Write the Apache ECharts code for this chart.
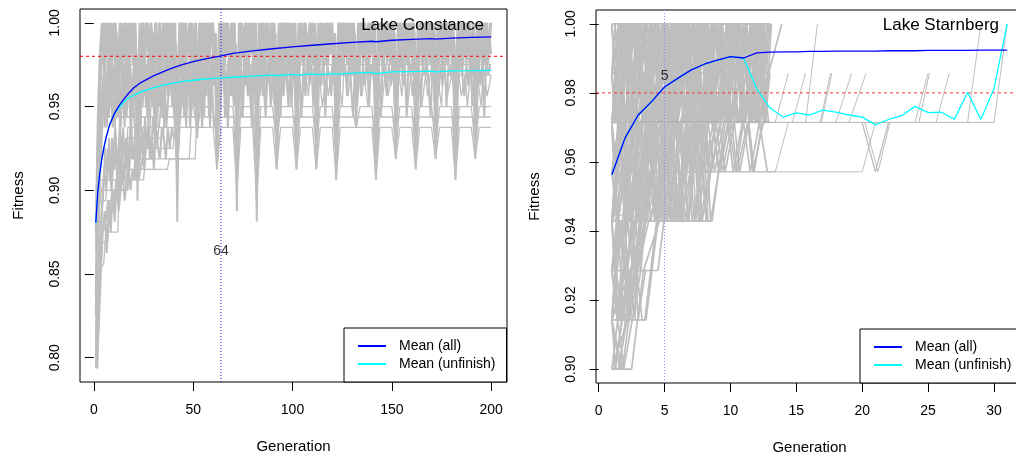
<!DOCTYPE html>
<html>
<head>
<meta charset="utf-8">
<script src="https://cdn.jsdelivr.net/npm/echarts@6/dist/echarts.min.js"></script>
<style>
  html, body { margin: 0; padding: 0; background: #fff; }
  #chart { width: 1016px; height: 452px; }
</style>
</head>
<body>
<div id="chart"></div>
<script>
// ---------------- Lake Constance (fitness = 1 - errors / 160) ----------------
const constanceScale = 160;
const constanceXTicks = [0, 50, 100, 150, 200];
const constanceYTicks = [0.80, 0.85, 0.90, 0.95, 1.00];
const constanceCross = 64;

// runs recorded every generation (errors); the matching entry of
// constanceDailyStart is the generation of the first value
const constanceRunA = [
  20,9,3,0,4,0,3,1,4,0, 3,9,4,0,2,0,4,1,3,0, 4,17,3,0,4,1,0,3,0,4, 0,9,0,4,0,2,4,0,3,0,
  4,19,3,0,4,0,3,0,4,1, 0,11,4,0,3,0,4,0,2,0, 4,14,3,0,4,0,3,1,4,0, 3,18,4,0,3,0,4,0,3,0,
  4,19,3,0,4,1,3,0,4,0, 3,14,4,0,3,0,4,0,2,0, 4,14,3,0,4,0,3,1,4,0, 3,14,4,0,3,0,4,0,3,0,
  4,15,3,0,4,0,2,0,4,0, 3,10,4,0,3,1,4,0,3,0, 4,15,3,0,4,0,3,0,4,0, 3,13,4,0,3,0,4,1,3,0,
  4,14,3,0,4,0,3,0,4,0, 3,13,4,0,3,0,4,0,2,0, 4,15,3,0,4,0,3,0,4,1, 3,13,4,0,3,0,4,0,3,0
];
const constanceRunB = [
  26,14,6,4,0,3,0,4,0,3, 0,7,0,3,1,4,0,3,0,4, 0,9,0,4,0,3,0,4,1,3, 0,6,0,3,0,4,0,3,0,4,
  0,10,0,3,0,4,1,3,0,4, 0,8,0,4,0,3,0,4,0,3, 1,10,0,3,0,4,0,3,0,4, 0,12,0,4,1,3,0,4,0,3,
  0,11,0,3,0,4,0,3,1,4, 0,9,0,4,0,3,0,4,0,3, 0,10,0,3,0,4,1,3,0,4, 0,9,0,4,0,3,0,4,0,3,
  1,11,0,3,0,4,0,3,0,4, 0,7,0,4,0,3,1,4,0,3, 0,11,0,3,0,4,0,3,0,4, 0,9,0,4,1,3,0,4,0,3,
  0,10,0,3,0,4,0,3,0,4, 0,10,0,4,0,3,1,4,0,3, 0,11,0,3,0,4,0,3,0,4, 0,9,0,4,0,3,0,4,1,3
];
const constanceRunC = [
  30,12,5,2,0,1,3,0,2,0, 1,6,0,2,0,3,0,1,2,0, 3,7,2,0,1,0,3,0,2,1, 0,6,0,3,1,0,2,0,1,3,
  2,8,1,0,2,0,3,1,0,2, 0,6,3,0,1,2,0,3,0,1, 2,7,0,1,0,3,0,2,1,0, 3,9,2,0,1,0,2,0,3,1,
  0,8,1,0,3,0,1,2,0,2, 3,7,2,0,1,0,3,0,2,1, 0,8,0,2,1,0,3,0,1,2, 0,7,3,0,2,1,0,2,0,3,
  1,8,0,2,0,3,1,0,2,0, 3,5,1,0,2,0,3,0,1,2, 0,9,2,0,3,1,0,2,0,1, 3,8,0,1,0,2,3,0,2,0,
  1,7,2,0,3,0,1,2,0,3, 0,8,3,1,0,2,0,1,3,0, 2,9,0,3,1,0,2,0,1,2, 0,7,2,0,3,1,0,3,0
];
const constanceRunD = [
  24,11,4,1,5,2,0,5,1,4, 2,5,1,4,0,5,2,0,4,1, 5,12,4,1,5,0,2,5,1,4, 1,8,2,5,0,4,1,5,2,0,
  5,12,0,5,1,4,2,0,5,1, 4,9,5,1,4,0,5,2,0,4, 1,12,4,0,5,2,1,4,0,5, 2,11,5,1,4,0,5,1,2,4,
  0,13,2,5,0,4,1,5,0,4, 1,12,4,0,5,2,0,4,1,5, 2,11,5,1,4,0,2,5,0,4, 1,12,4,0,5,1,4,2,0,5,
  2,13,4,0,5,1,4,0,2,5, 1,8,5,0,4,2,1,5,0,4, 2,13,4,0,5,1,4,2,0,5, 1,11,4,0,5,2,0,4,1,5,
  2,12,5,0,4,1,5,0,2,4, 1,11,4,0,5,2,0,4,1,5, 2,13,4,1,5,0,4,2,0,5, 1,11,4,0,5,2,0,4,1
];
const constanceRunE = [
  28,15,10,8,5,9,4,7,3,8, 4,9,5,3,8,4,6,3,9,5, 3,8,4,7,3,6,9,4,5,3, 8,4,6,3,9,5,3,7,4,8,
  3,9,5,4,8,3,6,4,9,3, 5,8,3,7,4,6,3,9,4,5, 3,8,4,6,3,9,5,3,7,4, 8,3,5,4,9,3,6,4,8,3,
  5,9,4,3,7,4,6,3,8,5, 3,7,4,9,3,5,4,8,3,6
];
const constanceRunF = [
  22,17,13,9,6,10,5,8,4,10, 6,4,9,5,10,4,7,5,9,4, 6,10,4,8,5,4,9,6,4,10, 5,8,4,6,10,4,7,5,4,9,
  4,6,9,4,5,10,4,7,4,6, 9,4,5,8,4,6,4,10,5,4, 7,4,9,5,4,6,10,4,5,8, 4,6,4,9,5,4,7,4,10,5,
  4,8,5,4,6,9,4,5,4,7
];
const constanceRunG = [
  31,20,12,7,4,8,3,6,4,7, 3,6,8,4,5,3,7,4,8,3, 5,7,3,6,4,8,3,5,7,4, 6,3,8,4,5,3,7,4,6,3,
  8,4,5,3,6,4,7,3,5,8, 3,6,4,7,3,5,4,8,3,6
];
const constanceRunV = [
  25,18,11,6,10,5,9,6,10,4, 8,5,10,6,4,9,5,10,7,4, 9,5,10,4,7,6,10,5,8,4, 10,6,4,9,5,10,7,4,8,6,
  10,4,7,5,9,6,4,10,5,8, 4,9,6,10,5,7,4,9,6,10
];
const constanceRunW = [
  33,24,19,16,12,15,11,16,13,10, 15,12,16,10,14,11,15,9,13,12, 10,14,11,13,9,12,10,13,9,11
];
const constanceRunX = [
  4,8,3,6,4,9,3,5,7,4, 6,3,8,4,5,3,9,4,6,3, 7,4,5,3,8,4,6,3,5,9, 3,6,4,7,3,5,8,4,6,3,
  5,9,4,6,3,7,4,5,3,8, 4,6,3,5,9,4,7,3,6,4, 8,3,5,4,6,3,9,4,5,7, 3,6,4,8,3,5,4,7,3,6,
  9,4,5,3,7,4,6,3,8,4, 5,3,6,4,9,3,5,7,4,6, 3,8,4,5,3,6,4,9,3,5, 7,4,6,3,8,4,5,3,6,9,
  4,5,3,7,4,6,3,8,4,5, 3,9,4,6,3,5,7,4,6,3, 8,4,5,3,6,4,9,3,5,4
];
const constanceRunY = [
  32,26,21,17,14,16,12,15,11,14, 12,16,10,13,15,11,14,10,13,12, 15,11,13,10,14,12,10,13,11,14,
  10,12,13,10,11,13,10,12,10,11
];
const constanceRunZ = [
  33,29,24,20,18,22,17,20,16,19, 15,18,16,14,17,15,14,16,14,15, 13,15,14,13,14
];
const constanceDailyStart = [1, 1, 1.5, 1.5, 1, 1.5, 1.25, 1.75, 1.5, 50.5, 1.25, 1.5];

// runs recorded only where they change: [generation, errors]
const constanceRunH = [[1,22],[2,14],[3,11],[5,8],[10,8],[12,13],[14,8],[20,8],[22,12],[24,8],[30,8],[32,11],[34,8],[40,8],[42,14],[44,8],[50,8],[52,10],[54,8],[60,8],[62,12],[64,8],[70,8],[72,15],[74,8],[80,8],[82,16],[84,8],[90,8],[92,12],[94,8],[100,8],[102,13],[104,8],[110,8],[112,12],[114,8],[120,8],[122,13],[124,8],[130,8],[132,10],[134,8],[140,8],[142,14],[144,8],[150,8],[152,12],[154,8],[160,8],[162,13],[164,8],[170,8],[172,12],[174,8],[180,8],[182,14],[184,8],[190,8],[192,12],[194,8],[200,8]];
const constanceRunI = [[1,27],[3,17],[5,15],[12,15],[13,9],[20,9],[22,13],[24,9],[31,9],[32,12],[33,9],[41,9],[42,17],[43,9],[51,9],[52,11],[53,9],[61,9],[62,14],[63,9],[71,9],[72,17],[73,9],[81,9],[82,18],[83,9],[91,9],[92,13],[93,9],[101,9],[102,13],[103,9],[111,9],[112,13],[113,9],[121,9],[122,14],[123,9],[131,9],[132,10],[133,9],[141,9],[142,14],[143,9],[151,9],[152,12],[153,9],[161,9],[162,13],[163,9],[171,9],[172,12],[173,9],[181,9],[182,14],[183,9],[191,9],[192,12],[193,9],[200,9]];
const constanceRunJ = [[1,33],[2,22],[4,20],[8,19],[9,16],[16,16],[17,10],[21,10],[22,15],[23,10],[41,10],[42,15],[43,10],[60,10],[62,14],[64,10],[70,10],[72,16],[74,10],[80,10],[82,17],[84,10],[90,10],[92,14],[94,10],[100,10],[102,14],[104,10],[110,10],[112,14],[114,10],[120,10],[122,15],[124,10],[140,10],[142,15],[144,10],[150,10],[152,13],[154,10],[160,10],[162,14],[164,10],[170,10],[172,13],[174,10],[180,10],[182,15],[184,10],[190,10],[192,13],[194,10],[200,10]];
const constanceRunK = [[1,18],[2,10],[3,6],[10,6],[11,4],[41,4],[42,12],[43,4],[51,4],[52,9],[53,4],[61,4],[62,11],[63,4],[71,4],[72,13],[73,4],[81,4],[82,14],[83,4],[91,4],[92,11],[93,4],[101,4],[102,10],[103,4],[111,4],[112,11],[113,4],[121,4],[122,12],[123,4],[131,4],[132,8],[133,4],[141,4],[142,12],[143,4],[151,4],[152,10],[153,4],[161,4],[162,11],[163,4],[171,4],[172,10],[173,4],[181,4],[182,12],[183,4],[191,4],[192,10],[193,4],[200,4]];
const constanceRunL = [[1,21],[2,13],[4,9],[20,9],[21,5],[41,5],[42,10],[43,5],[61,5],[62,9],[63,5],[81,5],[82,12],[83,5],[101,5],[102,9],[103,5],[121,5],[122,10],[123,5],[141,5],[142,11],[143,5],[161,5],[162,9],[163,5],[181,5],[182,10],[183,5],[200,5]];
const constanceRunM = [[90,7],[91,8],[93,4],[95,7],[96,4],[98,8],[99,5],[101,4],[102,11],[103,5],[105,8],[106,4],[108,7],[109,4],[111,5],[112,12],[113,4],[115,8],[117,5],[118,7],[120,4],[121,6],[122,12],[123,5],[125,8],[126,4],[128,7],[130,4],[131,5],[132,9],[133,4],[135,7],[136,5],[138,8],[140,4],[141,6],[142,13],[143,5],[145,8],[147,4],[148,7],[150,5],[151,6],[152,11],[153,4],[155,7],[156,5],[158,8],[160,4],[161,5],[162,12],[163,4],[165,8],[167,5],[168,7],[170,4],[171,6],[172,11],[173,5],[175,8],[176,4],[178,7],[180,5],[181,6],[182,13],[183,4],[185,7],[187,5],[188,8],[190,4],[191,5],[192,11],[193,5],[195,8],[196,4],[198,7],[200,5]];
const constanceRunN = [[1,33],[2,21],[4,20],[8,19],[9,18],[10,18],[11,16],[17,16],[18,14],[37,14],[38,13],[51,13],[52,8],[60,8]];
const constanceRunO = [[1,30],[2,24],[5,23],[6,20],[12,20],[13,15],[25,15],[26,13],[48,13],[49,10],[55,10]];
const constanceRunP = [[1,29],[2,19],[6,19],[7,17],[12,17],[13,14],[25,14],[26,11],[35,11],[36,7]];
const constanceRunQ = [[1,26],[2,18],[4,18],[5,16],[17,16],[18,13],[30,13],[31,9]];
const constanceRunR = [[1,32],[2,26],[3,21],[7,21],[8,18],[10,18],[11,15],[20,15],[21,12],[40,12],[41,9]];
const constanceRunS = [[1,24],[2,20],[3,17],[6,17],[7,14],[13,14],[14,12],[22,12],[23,9]];
const constanceRunT = [[1,28],[2,22],[3,15],[9,15],[10,13],[16,13],[17,11],[28,11],[29,7]];
const constanceRunU = [[1,31],[2,25],[3,23],[4,19],[6,19],[7,17],[9,17],[10,12],[20,12],[21,10],[33,10],[34,6]];

// mean fitness: [generation, fitness]
const constanceMeanAll = [[1,0.8807],[2,0.8990],[3,0.9100],[4,0.9185],[5,0.9250],[6,0.9305],[7,0.9350],[8,0.9392],[9,0.9420],[10,0.9448],[11,0.9471],[13,0.9510],[15,0.9543],[17,0.9572],[20,0.9611],[23,0.9638],[26,0.9658],[30,0.9683],[35,0.9708],[40,0.9732],[45,0.9752],[50,0.9768],[55,0.9782],[60,0.9793],[63,0.9799],[64,0.9802],[70,0.9817],[80,0.9832],[90,0.9845],[100,0.9856],[110,0.9866],[120,0.9875],[130,0.9883],[140,0.9890],[141,0.9890],[142,0.9887],[143,0.9891],[150,0.9896],[160,0.9901],[170,0.9905],[171,0.9905],[172,0.9903],[173,0.9906],[180,0.9909],[190,0.9913],[200,0.9916]];
const constanceMeanOpen = [[1,0.8807],[2,0.8990],[3,0.9100],[4,0.9185],[5,0.9250],[6,0.9305],[7,0.9350],[8,0.9392],[9,0.9420],[10,0.9448],[11,0.9469],[13,0.9495],[15,0.9525],[17,0.9548],[20,0.9567],[23,0.9583],[26,0.9597],[30,0.9612],[35,0.9628],[40,0.9640],[45,0.9650],[50,0.9657],[55,0.9663],[60,0.9668],[64,0.9671],[70,0.9675],[80,0.9682],[90,0.9688],[91,0.9688],[92,0.9684],[93,0.9689],[100,0.9692],[101,0.9692],[102,0.9688],[103,0.9693],[110,0.9695],[111,0.9695],[112,0.9691],[113,0.9696],[120,0.9697],[121,0.9697],[122,0.9693],[123,0.9698],[130,0.9700],[140,0.9704],[141,0.9704],[142,0.9697],[143,0.9705],[150,0.9707],[160,0.9709],[170,0.9711],[171,0.9711],[172,0.9707],[173,0.9712],[180,0.9713],[190,0.9714],[200,0.9716]];

// ---------------- Lake Starnberg (fitness = 1 - errors / 70) ----------------
const starnbergScale = 70;
const starnbergXTicks = [0, 5, 10, 15, 20, 25, 30];
const starnbergYTicks = [0.90, 0.92, 0.94, 0.96, 0.98, 1.00];
const starnbergCross = 5;

// runs that finish within the first dozen generations: [generation, errors]
const starnbergEarlyRuns = [
  [[1,0],[13,0]],
  [[1,1],[2,0],[13,0]],
  [[1,1],[13,1]],
  [[1,2],[2,1],[12.9,1],[13.9,0]],
  [[1,2],[1.6,0],[2.0,2],[2.7,0],[3.1,1],[3.7,0],[4.1,2],[4.8,0],[5.2,2],[5.8,0],[6.1,1],[6.8,0],[7.2,2],[7.9,0],[8.3,2],[8.9,0],[9.2,1],[9.9,0],[10.3,2],[11.0,0],[11.4,2],[12.0,0],[12.4,1],[13.0,0]],
  [[1,1],[1.3,2],[1.9,0],[2.3,2],[3.0,0],[3.4,2],[4.0,0],[4.4,1],[5.0,0],[5.4,2],[6.1,0],[6.5,2],[7.1,0],[7.5,1],[8.1,0],[8.5,2],[9.2,0],[9.6,2],[10.2,0],[10.6,1],[11.2,0],[11.6,2],[12.3,0],[12.7,2],[13.1,0]],
  [[1,2],[1.8,0],[2.2,1],[2.9,0],[3.3,2],[3.9,0],[4.3,2],[5.0,1],[5.3,2],[6.0,0],[6.4,2],[7.0,1],[7.4,2],[8.0,0],[8.4,1],[9.0,0],[9.4,2],[10.1,0],[10.5,2],[11.2,1],[11.5,2],[12.2,0],[12.6,2],[13.0,1]],
  [[1,0],[1.4,2],[2.1,0],[2.5,2],[3.2,0],[3.6,1],[4.2,0],[4.6,2],[5.2,0],[5.6,2],[6.3,0],[6.7,1],[7.3,0],[7.7,2],[8.3,0],[8.7,2],[9.4,0],[9.8,1],[10.4,0],[10.8,2],[11.5,0],[11.9,2],[12.5,0],[12.9,1]],
  [[1,1],[1.5,0],[1.9,2],[2.5,1],[2.8,2],[3.5,0],[3.9,2],[4.5,0],[4.9,1],[5.5,0],[5.9,2],[6.6,0],[7.0,2],[7.6,0],[8.0,1],[8.6,0],[9.0,2],[9.7,0],[10.1,2],[10.7,0],[11.1,1],[11.7,0],[12.1,2],[12.8,0]],
  [[1,2],[1.3,1],[1.7,2],[2.4,0],[2.7,2],[3.3,1],[3.7,2],[4.4,0],[4.7,2],[5.4,1],[5.7,2],[6.4,0],[6.8,2],[7.4,1],[7.8,2],[8.5,0],[8.8,2],[9.5,1],[9.8,2],[10.5,0],[10.9,2],[11.6,1],[11.9,2],[12.6,0]],
  [[1,1],[1.2,2],[1.8,1],[2.1,2],[2.6,0],[3.0,2],[3.6,1],[4.0,2],[4.6,1],[5.0,2],[5.6,1],[6.0,2],[6.6,1],[7.0,2],[7.7,1],[8.0,2],[8.7,1],[9.1,2],[9.7,1],[10.0,2],[10.8,1],[11.1,2],[11.8,1],[12.2,2],[12.8,1]],
  [[1,1],[1.7,0],[2.1,1],[2.8,0],[3.2,1],[3.9,0],[4.2,1],[4.9,0],[5.3,1],[5.9,0],[6.3,1],[6.9,0],[7.3,1],[8.0,0],[8.3,1],[9.0,0],[9.4,1],[10.0,0],[10.4,1],[11.1,0],[11.4,1],[12.1,0],[12.5,1],[13.1,0]],
  [[1,2],[1.45,1],[1.85,0],[2.25,2],[2.95,0],[3.35,2],[3.95,1],[4.35,0],[4.75,2],[5.45,0],[5.85,2],[6.45,1],[6.85,0],[7.25,2],[7.95,0],[8.35,2],[8.95,1],[9.35,0],[9.75,2],[10.45,0],[10.85,2],[11.45,1],[11.85,0],[12.25,2],[12.95,0]],
  [[1,1],[1.25,0],[1.65,2],[2.35,0],[2.75,2],[3.45,0],[3.8,2],[4.45,0],[4.85,2],[5.55,0],[5.95,1],[6.5,0],[6.9,2],[7.55,0],[7.95,2],[8.65,0],[9.05,2],[9.7,0],[10.05,1],[10.6,0],[11.0,2],[11.7,0],[12.05,2],[12.75,0]],
  [[1,2],[1.95,0],[2.35,2],[3.05,1],[3.45,2],[4.15,0],[4.55,2],[5.25,0],[5.65,2],[6.35,1],[6.75,2],[7.45,0],[7.85,2],[8.55,0],[8.95,2],[9.65,1],[10.05,2],[10.75,0],[11.15,2],[11.85,0],[12.25,2],[12.9,1]],
  [[1,0],[1.55,2],[2.2,0],[2.6,1],[3.15,0],[3.55,2],[4.25,0],[4.65,1],[5.15,0],[5.55,2],[6.2,0],[6.6,2],[7.25,0],[7.65,1],[8.2,0],[8.6,2],[9.25,0],[9.65,2],[10.3,0],[10.7,1],[11.25,0],[11.65,2],[12.35,0],[12.75,2]],
  [[1,1],[1.4,2],[2.05,1],[2.45,2],[3.05,0],[3.45,2],[4.1,1],[4.5,2],[5.1,0],[5.5,2],[6.15,1],[6.55,2],[7.15,0],[7.55,2],[8.2,1],[8.6,2],[9.2,0],[9.6,2],[10.25,1],[10.65,2],[11.25,0],[11.65,2],[12.3,1],[12.7,2]],
  [[1,2],[1.55,2],[2.25,0],[2.65,2],[3.4,0],[3.75,2],[4.5,0],[4.9,2],[5.6,0],[6.0,2],[6.7,0],[7.05,2],[7.8,0],[8.15,2],[8.85,0],[9.25,2],[9.95,0],[10.3,2],[11.05,0],[11.4,2],[12.1,0],[12.5,2],[13.0,0]],
  [[1,1],[1.6,0],[2.0,1],[2.55,0],[2.95,1],[3.6,0],[4.0,1],[4.6,0],[5.0,1],[5.65,0],[6.05,1],[6.65,0],[7.05,1],[7.7,0],[8.1,1],[8.7,0],[9.1,1],[9.75,0],[10.15,1],[10.75,0],[11.15,1],[11.8,0],[12.2,1],[12.85,0]],
  [[1,2],[1.5,1],[1.9,2],[2.5,1],[2.9,2],[3.5,1],[3.9,2],[4.55,1],[4.9,2],[5.5,1],[5.9,2],[6.55,1],[6.9,2],[7.5,1],[7.9,2],[8.55,1],[8.9,2],[9.5,1],[9.9,2],[10.55,1],[10.95,2],[11.5,1],[11.9,2],[12.5,1],[12.9,2]],
  [[1,4],[1.7,2],[2.1,4],[2.8,2],[3.2,3],[3.9,2],[4.3,4],[5.0,2],[5.4,4],[6.1,2],[6.5,3],[7.2,2],[7.6,4],[8.3,2],[8.8,3],[9.5,2]],
  [[1,3],[1.4,4],[2.0,2],[2.4,4],[3.1,2],[3.5,4],[4.1,3],[4.5,4],[5.2,2],[5.6,4],[6.2,2],[6.6,3],[7.3,2],[7.7,4],[8.4,3]],
  [[1,2],[1.5,4],[2.3,2],[2.6,3],[3.3,2],[3.7,4],[4.4,2],[4.8,4],[5.5,2],[5.9,4],[6.6,2],[7.0,3],[7.6,2],[8.0,3],[8.7,2],[9.1,3],[9.8,2],[10.2,3],[10.9,2]],
  [[1,4],[1.3,3],[1.9,2],[2.3,3],[2.9,2],[3.4,4],[4.0,3],[4.4,4],[5.0,2],[5.3,3],[5.9,2],[6.4,4],[7.0,2],[7.4,4],[8.1,2],[8.5,3],[9.2,2],[9.6,3],[10.3,2],[10.7,3],[11.4,2],[11.8,3],[12.4,2]],
  [[1,3],[1.6,2],[2.0,4],[2.7,3],[3.0,4],[3.6,2],[4.0,3],[4.7,2],[5.1,4],[5.7,3],[6.0,4],[6.7,2],[7.1,4],[7.8,3],[8.2,4]],
  [[1,2],[1.2,3],[1.9,2],[2.2,4],[2.9,3],[3.3,4],[3.9,2],[4.3,3],[4.9,2],[5.2,4],[5.8,3],[6.2,4],[6.8,2],[7.2,3],[7.9,2],[8.3,4],[8.6,4]],
  [[1,3],[1.55,2],[1.95,4],[2.65,2],[3.05,4],[3.75,2],[4.15,3],[4.75,2],[5.15,4],[5.85,2],[6.25,4],[6.95,3],[7.3,4],[8.0,2],[8.4,3]],
  [[1,4],[1.45,2],[1.85,3],[2.45,2],[2.85,4],[3.55,2],[3.95,4],[4.6,3],[5.0,4],[5.65,2],[6.05,4],[6.7,2],[7.1,3],[7.75,2],[8.15,4],[8.8,2]],
  [[1,2],[1.35,4],[2.05,3],[2.45,4],[3.15,2],[3.55,3],[4.2,2],[4.6,4],[5.3,2],[5.7,3],[6.35,2],[6.75,4],[7.45,2],[7.85,4],[8.5,3]],
  [[1,3],[1.75,2],[2.15,3],[2.8,2],[3.2,4],[3.85,3],[4.25,4],[4.9,2],[5.3,3],[6.0,2],[6.4,3],[7.05,2],[7.45,3],[8.1,2],[8.5,4],[9.1,3]],
  [[1,4],[1.9,2],[2.3,4],[3.0,2],[3.4,3],[4.05,2],[4.45,4],[5.15,2],[5.55,4],[6.25,3],[6.6,4],[7.3,2],[7.7,3],[8.35,2]],
  [[1,2],[1.4,3],[2.1,2],[2.5,4],[3.2,3],[3.6,4],[4.3,2],[4.7,3],[5.35,2],[5.75,4],[6.45,3],[6.85,4],[7.5,2],[7.9,3],[8.55,3],[9.3,2]],
  [[1,3],[8.2,3],[8.9,2],[9.4,3],[10.1,2],[10.5,3],[11.3,2],[11.7,3],[12.5,2]],
  [[1,2],[8.6,2],[9.2,3],[9.9,2],[10.4,3],[11.0,2],[11.5,3],[12.2,2],[12.8,3]],
  [[1,6],[1.6,4],[2.1,5],[2.8,4],[3.2,5],[3.9,3]],
  [[1,5],[1.4,6],[2.0,4],[2.4,6],[3.0,5],[3.6,4],[4.3,2]],
  [[1,4],[1.5,6],[2.2,4],[2.6,5],[3.2,4],[3.8,3]],
  [[1,6],[1.3,5],[1.9,6],[2.5,4],[2.9,5],[3.5,4],[4.2,3]],
  [[1,5],[1.8,4],[2.2,6],[2.9,5],[3.3,6],[3.6,6],[4.5,4]],
  [[1,4],[1.2,5],[1.8,4],[2.3,6],[2.7,4],[3.4,3]],
  [[1,5],[1.45,4],[1.9,6],[2.45,4],[2.95,5],[3.5,4]],
  [[1,4],[1.7,6],[2.3,5],[2.75,6],[3.1,4]],
  [[1,6],[1.45,4],[2.0,5],[2.6,4],[3.0,6],[3.55,5]],
  [[1,5],[1.65,6],[2.15,4],[2.7,5],[3.25,4]],
  [[1,6],[1.3,7],[2.6,4]],
  [[1,7],[1.5,7],[2.8,5]],
  [[1,6],[1.6,7],[2.9,4]],
  [[1,5],[1.9,7],[3.2,5]],
  [[1,7],[1.2,7],[2.4,5],[3.6,5]],
  [[1,6],[1.8,7],[3.3,4]],
  [[1,4],[8.6,4],[9.6,2],[13,2]],
  [[1,5],[4.5,5],[5.4,3],[8,3],[9,2]],
  [[1,6],[3.5,6],[4.4,4],[6,4],[7,2]],
  [[1,7],[1.9,5],[2.8,4],[3.6,3],[4.7,2],[5.5,1],[6.6,0]],
  [[1,6],[2.1,5],[3.0,3],[3.8,2],[4.9,1],[5.8,0]],
  [[1,6],[1.8,4],[2.6,2],[3.5,1],[4.4,0]],
  [[1,5],[2.3,4],[3.1,3],[4.2,2],[5.1,0]],
  [[1,5],[1.7,3],[2.5,2],[3.6,1],[4.7,1],[5.6,0]],
  [[1,6],[2.4,5],[3.3,4],[4.5,2],[6.2,2],[7.1,1],[8.0,0]],
  [[1,7],[2.2,6],[3.1,4],[4.0,3],[5.3,2],[6.1,1]],
  [[1,5],[2.6,5],[3.5,4],[4.8,3],[5.7,3],[6.7,2],[7.6,1],[8.6,0]],
  [[1,4],[2.2,4],[3.1,3],[4.5,3],[5.4,2],[6.5,2],[7.4,1],[8.3,0]],
  [[1,6],[2.0,6],[2.9,5],[3.8,4],[5.0,3],[5.8,2],[6.9,2],[7.8,1]],
  [[1,7],[2.5,7],[3.4,5],[4.6,4],[5.6,2],[6.3,1],[7.2,0]],
  [[1,5],[2.0,4],[3.3,4],[4.1,2],[5.0,1],[6.1,0]],
  [[1,4],[1.6,3],[2.7,3],[3.4,2],[4.6,1],[5.6,0]],
  [[1,3],[2.1,2],[3.2,2],[4.0,1],[5.4,1],[6.3,0]],
  [[1,3],[1.9,3],[2.7,2],[7.4,2],[8.3,1],[9.5,1],[10.4,0]],
  [[1,4],[2.5,3],[3.4,2],[8.6,2],[9.5,1],[11.2,1],[12.0,0]],
  [[1,2],[5.3,2],[6.2,1],[10.1,1],[11.0,0]],
  [[1,3],[2.4,3],[3.3,2],[9.8,2],[10.8,1],[11.7,0]]
];

// runs that linger at 2 errors: [generation, errors]
const starnbergLateRuns = [
  [[1,4],[2,3],[3,2],[30,2]],
  [[1,5],[2,3],[3,3],[4,2],[30,2]],
  [[1,3],[2,3],[3,2],[29,2]],
  [[1,3],[2,2],[20,2],[21,3],[22,2],[24,2],[25,1]],
  [[1,4],[2,3],[3,2],[20,2],[21,3],[22,2],[28,2],[29,0]],
  [[1,4],[2,3],[3,2],[20.2,2],[21.2,3],[22.1,2],[24.3,2],[25.1,1]],
  [[1,3],[2,2],[12,2],[13,1]],
  [[1,4],[2,2],[12.2,2],[13,1]],
  [[1,2],[13.4,2],[14.4,1]],
  [[1,3],[2,3],[3,2],[14.7,2],[15.7,1]],
  [[1,4],[2,3],[3,2],[15.7,2],[16.6,0]],
  [[1,3],[2,2],[16.9,2],[17.7,1]],
  [[1,5],[2,3],[3,2],[16.8,2],[17.6,1]],
  [[1,2],[18,2],[19.2,1]],
  [[1,4],[2,2],[19,2],[20.3,1]],
  [[1,2],[25.6,2],[26.6,1]],
  [[1,3],[2,2],[30,2],[31,0]],
  [[1,5],[2,4],[3,3],[20,3],[21,2],[27,2]],
  [[1,4],[6.8,3],[13.4,3],[14.4,2],[17,2]]
];

// mean fitness per generation, generation 1 onward
const starnbergMeanAll = [0.9563,0.9669,0.9736,0.9774,0.9817,0.9842,0.9866,0.9883,0.9895,0.9905,0.9901,0.9916,0.9918,0.9919,0.9919,0.9920,0.9920,0.9921,0.9921,0.9921,0.9921,0.9922,0.9922,0.9922,0.9923,0.9923,0.9923,0.9923,0.9924,0.9924,0.9924];
const starnbergMeanOpen = [0.9563,0.9669,0.9736,0.9774,0.9817,0.9842,0.9866,0.9883,0.9895,0.9905,0.9901,0.9812,0.9756,0.9730,0.9742,0.9736,0.9750,0.9744,0.9736,0.9730,0.9708,0.9723,0.9734,0.9761,0.9743,0.9744,0.9724,0.9802,0.9723,0.9813,1.0000];

const targetFitness = 0.98;

// ---------------- assembling ----------------
const FONT = '"Liberation Sans", Arial, Helvetica, sans-serif';

const constanceDaily = [constanceRunA, constanceRunB, constanceRunC, constanceRunD, constanceRunE,
  constanceRunF, constanceRunG, constanceRunW, constanceRunV, constanceRunX, constanceRunY, constanceRunZ];
const constanceSparse = [constanceRunH, constanceRunI, constanceRunJ, constanceRunK, constanceRunL, constanceRunM,
  constanceRunN, constanceRunO, constanceRunP, constanceRunQ, constanceRunR, constanceRunS, constanceRunT, constanceRunU];

const toFit = (scale) => ([g, e]) => [g, 1 - e / scale];
const constanceDailyLines = constanceDaily.map((run, r) => run.map((e, i) => [constanceDailyStart[r] + i, 1 - e / constanceScale]));
const constanceSparseLines = constanceSparse.map(run => run.map(toFit(constanceScale)));
const starnbergEarlyLines = starnbergEarlyRuns.map(run => run.map(toFit(starnbergScale)));
const starnbergLateLines = starnbergLateRuns.map(run => run.map(toFit(starnbergScale)));
const starnbergAllPts = starnbergMeanAll.map((v, i) => [i + 1, v]);
const starnbergOpenPts = starnbergMeanOpen.map((v, i) => [i + 1, v]);

// plotting range: generations 1..N and the fitness extent, each widened by 4%
function padded(lo, hi) { const p = (hi - lo) * 0.04; return [lo - p, hi + p]; }
function extentY(lines) {
  let lo = Infinity, hi = -Infinity;
  lines.forEach(l => l.forEach(p => { lo = Math.min(lo, p[1]); hi = Math.max(hi, p[1]); }));
  return padded(lo, hi);
}
const cX = padded(1, 200), cY = extentY(constanceDailyLines.concat(constanceSparseLines));
const sX = padded(1, starnbergMeanAll.length), sY = extentY(starnbergEarlyLines.concat(starnbergLateLines));

function xAxis(grid, range, ticks) {
  return {
    type: 'value', gridIndex: grid, min: range[0], max: range[1],
    name: 'Generation', nameLocation: 'middle', nameGap: 57,
    nameTextStyle: { fontSize: 15, color: '#000', fontFamily: FONT },
    axisLine: { show: false },
    axisTick: { show: true, length: 9, customValues: ticks, lineStyle: { color: '#000', width: 1 } },
    axisLabel: { customValues: ticks, margin: 21, fontSize: 14, color: '#000', fontFamily: FONT, formatter: v => String(v) },
    splitLine: { show: false }
  };
}
function yAxis(grid, range, ticks) {
  return {
    type: 'value', gridIndex: grid, min: range[0], max: range[1],
    name: 'Fitness', nameLocation: 'middle', nameGap: 54, nameRotate: 90,
    nameTextStyle: { fontSize: 15, color: '#000', fontFamily: FONT },
    axisLine: { show: false },
    axisTick: { show: true, length: 9, customValues: ticks, lineStyle: { color: '#000', width: 1 } },
    axisLabel: { customValues: ticks, rotate: 90, margin: 18, fontSize: 14, color: '#000', fontFamily: FONT, formatter: v => v.toFixed(2) },
    splitLine: { show: false }
  };
}

function plain(data, idx, color, width, dash, z, name) {
  const s = {
    type: 'line', xAxisIndex: idx, yAxisIndex: idx, data: data,
    symbol: 'none', showSymbol: false, silent: true, z: z,
    lineStyle: { color: color, width: width, type: dash || 'solid' },
    itemStyle: { color: color }
  };
  if (name) s.name = name;
  return s;
}
function note(text, point, idx) {
  return {
    type: 'scatter', xAxisIndex: idx, yAxisIndex: idx, data: [point],
    symbolSize: 1, itemStyle: { color: 'rgba(0,0,0,0)' }, silent: true, z: 6,
    label: { show: true, position: 'inside', formatter: text, fontSize: 14, color: '#000', fontFamily: FONT }
  };
}

const GRAY = '#bebebe';
const series = [
  ...constanceDailyLines.map(l => plain(l, 0, GRAY, 2, null, 1)),
  ...constanceSparseLines.map(l => plain(l, 0, GRAY, 1.3, null, 1)),
  ...starnbergEarlyLines.map(l => plain(l, 1, GRAY, 1.7, null, 1)),
  ...starnbergLateLines.map(l => plain(l, 1, GRAY, 1, null, 1)),
  // target fitness level and the generation where the mean first reaches it
  plain([[cX[0], targetFitness], [cX[1], targetFitness]], 0, '#ff0000', 1, [3, 3], 5),
  plain([[constanceCross, cY[0]], [constanceCross, cY[1]]], 0, '#1a1aff', 1, [1, 2], 5),
  plain([[sX[0], targetFitness], [sX[1], targetFitness]], 1, '#ff3030', 1, [3, 3], 5),
  plain([[starnbergCross, sY[0]], [starnbergCross, sY[1]]], 1, '#8c8cff', 1, [1, 2], 5),
  plain(constanceMeanOpen, 0, '#00ffff', 1.3, null, 6, 'Mean (unfinish)'),
  plain(constanceMeanAll, 0, '#0000ff', 1.3, null, 7, 'Mean (all)'),
  plain(starnbergOpenPts, 1, '#00ffff', 1.3, null, 6, 'Mean (unfinish)'),
  plain(starnbergAllPts, 1, '#0000ff', 1.3, null, 7, 'Mean (all)'),
  note(String(constanceCross), [constanceCross, 0.8634], 0),
  note(String(starnbergCross), [starnbergCross, 0.9849], 1)
];

const legendBase = {
  orient: 'vertical', itemWidth: 28, itemHeight: 14, itemGap: 4,
  padding: [11, 11, 11, 13], borderColor: '#000', borderWidth: 1, backgroundColor: '#fff',
  itemStyle: { opacity: 0 },
  textStyle: { fontSize: 14, color: '#000', fontFamily: FONT, padding: [0, 0, 0, 8] },
  selectedMode: false, data: ['Mean (all)', 'Mean (unfinish)']
};

const gridBase = { show: true, borderColor: '#000', borderWidth: 1, backgroundColor: 'transparent',
  containLabel: false, outerBoundsMode: 'none' };

const option = {
  animation: false,
  backgroundColor: '#fff',
  title: [
    { text: 'Lake Constance', right: 532, top: 17, padding: 0, textStyle: { fontSize: 17, fontWeight: 'normal', color: '#000', fontFamily: FONT } },
    { text: 'Lake Starnberg', right: 17, top: 17, padding: 0, textStyle: { fontSize: 17, fontWeight: 'normal', color: '#000', fontFamily: FONT } }
  ],
  legend: [
    Object.assign({}, legendBase, { left: 344, top: 328 }),
    Object.assign({}, legendBase, { left: 860, top: 329 })
  ],
  grid: [
    Object.assign({}, gridBase, { left: 80, top: 9, width: 427, height: 373 }),
    Object.assign({}, gridBase, { left: 596, top: 10, width: 427, height: 373 })
  ],
  xAxis: [xAxis(0, cX, constanceXTicks), xAxis(1, sX, starnbergXTicks)],
  yAxis: [yAxis(0, cY, constanceYTicks), yAxis(1, sY, starnbergYTicks)],
  series: series
};

const chart = echarts.init(document.getElementById('chart'));
chart.setOption(option);
</script>
</body>
</html>
